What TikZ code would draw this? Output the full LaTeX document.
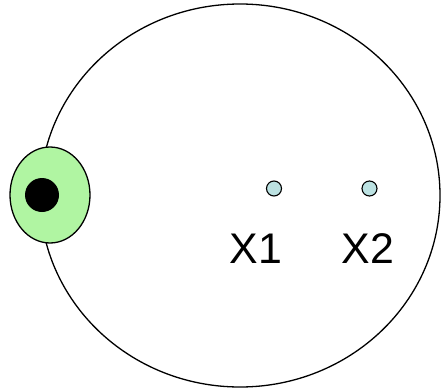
\documentclass[tikz,border=0pt]{standalone}
\usepackage{fontspec}
\setmainfont{Liberation Sans}
\usetikzlibrary{shapes.geometric}
\definecolor{cellgreen}{HTML}{B0F5A2}
\definecolor{ptblue}{HTML}{BCE2E2}

\begin{document}
\begin{tikzpicture}[
  x=1bp,y=1bp,
  outline/.style={draw=black,line width=1.3bp},
  pt/.style={circle,draw=black,line width=1.1bp,fill=ptblue,inner sep=0pt,minimum size=15bp},
  lab/.style={font=\fontsize{43}{43}\selectfont,anchor=base,inner sep=0pt}
]
  \path[use as bounding box] (0,0) rectangle (441,390);
  \node[outline,ellipse,minimum width=400bp,minimum height=383bp,inner sep=0pt]
    (body) at (240,194.5) {};
  \node[outline,ellipse,fill=cellgreen,minimum width=80bp,minimum height=96bp,inner sep=0pt]
    (cell) at (50,195) {};
  \node[circle,fill=black,minimum size=34bp,inner sep=0pt] (core) at (42,195) {};
  \node[pt] (p1) at (274,201.5) {};
  \node[pt] (p2) at (369.5,201.5) {};
  \node[lab] (x1) at (256,127) {X1};
  \node[lab] (x2) at (368,127) {X2};
\end{tikzpicture}
\end{document}
